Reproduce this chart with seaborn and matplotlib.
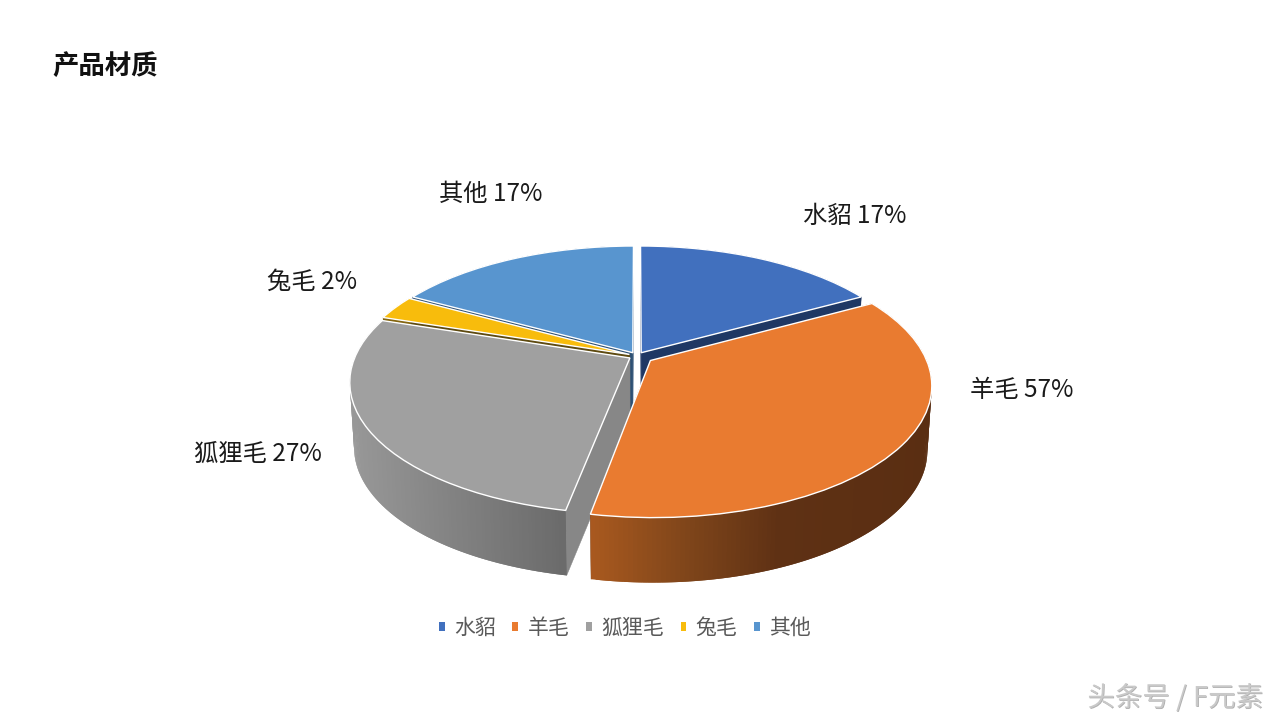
import numpy as np
import matplotlib
matplotlib.use("Agg")
import matplotlib.pyplot as plt
import matplotlib.transforms as mtransforms
import matplotlib.patheffects as pe
from matplotlib.collections import PolyCollection
from matplotlib.patches import Patch, Polygon
import seaborn as sns

# ---- data ----
categories = ["水貂", "羊毛", "狐狸毛", "兔毛", "其他"]
label_percent = ["17%", "57%", "27%", "2%", "17%"]     # printed labels
slice_share = [17, 36, 27, 3, 17]                      # drawn slice sizes
explode = [0.03, 0.06, 0.03, 0.03, 0.03]
top_colors = ["#4170BE", "#E97B30", "#A0A0A0", "#F8BC0C", "#5895CF"]
face_colors = ["#1F3864", "#7A4219", "#878787", "#5E4A10", "#2D5074"]
rim_x = [[640, 900], [590, 690, 780, 932], [350, 567], [380, 420], [410, 640]]
rim_colors = [["#1F3864", "#1F3864"],
              ["#A9591F", "#7E451A", "#5F3114", "#5A2E12"],
              ["#989898", "#6A6A6A"],
              ["#8A6A10", "#8A6A10"],
              ["#2D5074", "#2D5074"]]
draw_order = [4, 0, 3, 2, 1]
label_xy = [(855, 216), (1022, 390), (258, 454), (312, 282), (491, 194)]

CX, Y0, A, B, K = 637.0, 356.0, 274.5, 127.0, 0.18
DEPTH, BOTTOM_SCALE = 65.0, 0.985

sns.set_theme(style="white")
plt.rcParams["font.family"] = ["Noto Sans CJK SC", "DejaVu Sans"]


class Perspective(mtransforms.Transform):
    """Tilted-disc projection from pie units to the pixel-like data space."""
    input_dims = output_dims = 2
    is_separable = False

    def transform_non_affine(self, xy):
        xy = np.asarray(xy, dtype=float)
        w = 1 + K * xy[:, 1]
        return np.column_stack([CX + A * xy[:, 0] / w, Y0 - B * xy[:, 1] / w])


persp = Perspective()


def sink(pts):
    out = np.array(pts, dtype=float)
    out[:, 0] = CX + (out[:, 0] - CX) * BOTTOM_SCALE
    out[:, 1] += DEPTH
    return out


fig = plt.figure(figsize=(12.8, 7.2), dpi=100, facecolor="white")
ax = fig.add_axes([0, 0, 1, 1])
palette = sns.color_palette(top_colors)
wedges, _ = ax.pie(slice_share, explode=explode, colors=palette, startangle=90,
                   counterclock=False, radius=1,
                   wedgeprops=dict(edgecolor="white", linewidth=1.0))
ax.set_aspect("auto")
ax.set_xlim(0, 1280)
ax.set_ylim(720, 0)
ax.axis("off")

z = 2.0
for i in draw_order:
    w = wedges[i]
    cx, cy = w.center
    th = np.radians(np.linspace(w.theta1, w.theta2, 160))
    rim = persp.transform(np.column_stack([cx + np.cos(th), cy + np.sin(th)]))
    apex = persp.transform(np.array([[cx, cy]]))[0]
    # radial cut faces
    for end in (rim[0], rim[-1]):
        top_edge = np.array([apex, end])
        quad = np.vstack([top_edge, sink(top_edge)[::-1]])
        ax.add_patch(Polygon(quad, closed=True, facecolor=face_colors[i],
                             edgecolor=face_colors[i], linewidth=0.3, zorder=z))
    z += 0.1
    # outer rim with a shading gradient (overlapping quads hide the seams)
    low = sink(rim)
    n = len(rim)
    quads = [np.array([rim[j], rim[min(j + 2, n - 1)], low[min(j + 2, n - 1)], low[j]])
             for j in range(n - 1)]
    rgb = np.array([matplotlib.colors.to_rgb(c) for c in rim_colors[i]])
    xm = 0.5 * (rim[:-1, 0] + rim[1:, 0])
    cols = np.column_stack([np.interp(xm, rim_x[i], rgb[:, k]) for k in range(3)])
    ax.add_collection(PolyCollection(quads, facecolors=cols, edgecolors="none",
                                     linewidths=0, zorder=z))
    z += 0.1
    # vertical highlight where cut face meets the rim
    if i == 2:
        corner = np.array([rim[0], sink(rim[:1])[0]])
        ax.plot(corner[:, 0], corner[:, 1], color="white", lw=1.0, zorder=z)
    z += 0.1
    w.set_transform(persp + ax.transData)
    w.set_zorder(z)
    z += 0.1

for name, pct, (x, y) in zip(categories, label_percent, label_xy):
    ax.text(x, y, f"{name} {pct}", ha="center", va="center", fontsize=17.5,
            color="#1a1a1a", zorder=50)

ax.text(52, 66, "产品材质", ha="left", va="center", fontsize=19, fontweight="bold",
        color="#111111")

handles = [Patch(facecolor=c, edgecolor="none") for c in top_colors]
leg = ax.legend(handles, categories, ncol=5, frameon=False, loc="center",
                bbox_to_anchor=(625 / 1280, 1 - 628 / 720), fontsize=15,
                handlelength=0.28, handleheight=0.28, handletextpad=0.45,
                columnspacing=0.8, labelcolor="#595959")

ax.text(1263, 698, "头条号 / F元素", ha="right", va="center", fontsize=19.8,
        color="#c9c9c9",
        path_effects=[pe.withSimplePatchShadow(offset=(0.5, -0.5),
                                               shadow_rgbFace="#777777", alpha=0.6)])

fig.savefig("out.png", dpi=100)
